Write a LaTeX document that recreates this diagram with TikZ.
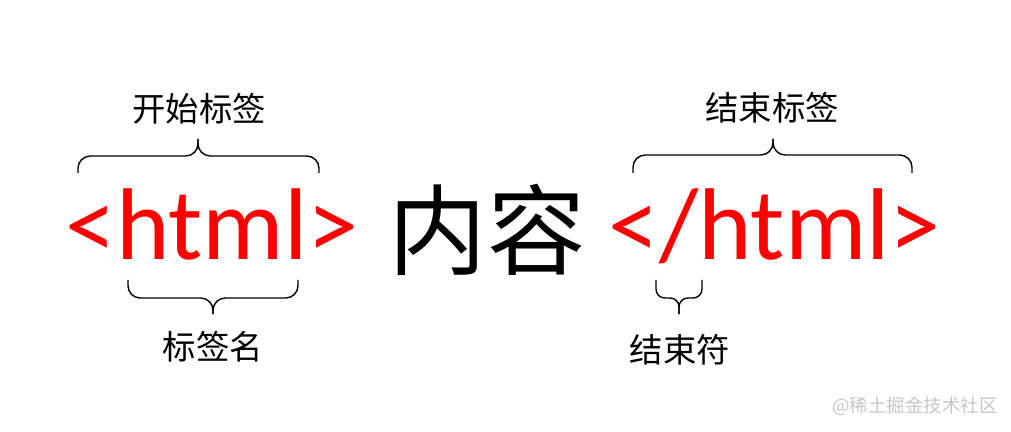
\documentclass[tikz,border=0pt]{standalone}
\usepackage{fontspec}
\setmainfont{Carlito}
\newfontfamily\cjk{Noto Sans CJK SC}
\tikzset{
  tagtext/.style={text=red, inner sep=0pt, font=\fontsize{58}{60}\selectfont},
  label/.style={inner sep=0pt, font=\cjk\fontsize{19}{22}\selectfont},
  bracepart/.style={line width=0.8pt, rounded corners=7pt}
}
\begin{document}
\begin{tikzpicture}[x=0.02cm,y=-0.02cm]
    \useasboundingbox (0,0) rectangle (1011,432);
    % the three parts of the element
    \node[tagtext, anchor=base] (open) at (212,260) {<html>};
    \node[inner sep=0pt, font=\cjk\fontsize{56}{60}\selectfont] (content) at (487,230) {内容};
    \node[tagtext, anchor=base] (close) at (774.5,260) {</html>};
    % labels
    \node[label] (openlbl) at (199,109) {开始标签};
    \node[label] (namelbl) at (213,347) {标签名};
    \node[label] (closelbl) at (772,108) {结束标签};
    \node[label] (slashlbl) at (680,350) {结束符};
    % braces above
    \draw [bracepart](78,173)--(78,156)--(198,156)--(198,139);
    \draw [bracepart](319,173)--(319,156)--(198,156)--(198,139);
    \draw [bracepart](633,173)--(633,155)--(773,155)--(773,139);
    \draw [bracepart](912,173)--(912,155)--(773,155)--(773,139);
    % braces below
    \draw [bracepart](128,280)--(128,298)--(213,298)--(213,314);
    \draw [bracepart](298,280)--(298,298)--(213,298)--(213,314);
    \draw [bracepart, rounded corners=5pt](656,280)--(656,298)--(679,298)--(679,314);
    \draw [bracepart, rounded corners=5pt](702,280)--(702,298)--(679,298)--(679,314);
    % watermark
    \node[inner sep=0pt, text=gray!45, font=\cjk\fontsize{10.5}{13}\selectfont] (mark) at (915,406) {@稀土掘金技术社区};
\end{tikzpicture}
\end{document}
